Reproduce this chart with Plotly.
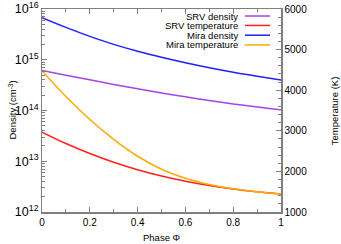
import plotly.graph_objects as go

phase = [0.0, 0.1, 0.2, 0.3, 0.4, 0.5, 0.6, 0.7, 0.8, 0.9, 1.0]

srv_density = [6.17e14, 4.97e14, 4.02e14, 3.26e14, 2.67e14, 2.22e14,
               1.86e14, 1.57e14, 1.35e14, 1.17e14, 1.03e14]
mira_density = [6.75e15, 4.34e15, 2.89e15, 2.01e15, 1.47e15, 1.12e15,
                8.74e14, 6.97e14, 5.69e14, 4.75e14, 4.0e14]
srv_temperature = [2968, 2686, 2441, 2225, 2042, 1887, 1760, 1654, 1569, 1500, 1444]
mira_temperature = [4480, 3843, 3279, 2789, 2373, 2054, 1833, 1679, 1571, 1498, 1441]

names = ["SRV density", "SRV temperature", "Mira density", "Mira temperature"]
colors = ["#a445e8", "#ff2020", "#2020ff", "#ffaa00"]

FONT = "Liberation Sans, Arial, Helvetica, sans-serif"
AX = "#808080"

fig = go.Figure()
fig.add_trace(go.Scatter(x=phase, y=srv_density, mode="lines", line=dict(color=colors[0], width=1.5, shape="spline"), showlegend=False))
fig.add_trace(go.Scatter(x=phase, y=srv_temperature, mode="lines", yaxis="y2", line=dict(color=colors[1], width=1.5, shape="spline"), showlegend=False))
fig.add_trace(go.Scatter(x=phase, y=mira_density, mode="lines", line=dict(color=colors[2], width=1.5, shape="spline"), showlegend=False))
fig.add_trace(go.Scatter(x=phase, y=mira_temperature, mode="lines", yaxis="y2", line=dict(color=colors[3], width=1.5, shape="spline"), showlegend=False))

# custom legend (text right-aligned, sample line on the right)
ly = [0.9655, 0.919, 0.871, 0.823]
for n, c, yy in zip(names, colors, ly):
    fig.add_annotation(x=0.823, y=yy, xref="paper", yref="paper", text=n, showarrow=False,
                       xanchor="right", yanchor="middle", borderpad=0,
                       font=dict(size=9.5, color="#000", family=FONT))
    fig.add_shape(type="line", xref="paper", yref="paper", x0=0.849, x1=0.954, y0=yy, y1=yy,
                  line=dict(color=c, width=1.5))

# axis titles
fig.add_annotation(x=-0.1255, y=0.5, xref="paper", yref="paper", text="Density (cm<sup>-3</sup>)",
                   textangle=-90, showarrow=False, xanchor="center", yanchor="middle",
                   font=dict(size=9.5, family=FONT, color="#000"))
fig.add_annotation(x=1.225, y=0.5, xref="paper", yref="paper", text="Temperature (K)",
                   textangle=-90, showarrow=False, xanchor="center", yanchor="middle",
                   font=dict(size=9.5, family=FONT, color="#000"))
fig.add_annotation(x=0.5, y=-0.127, xref="paper", yref="paper", text="Phase Φ",
                   showarrow=False, xanchor="center", yanchor="middle",
                   font=dict(size=9.5, family=FONT, color="#000"))

fig.update_layout(
    width=341, height=244,
    margin=dict(l=42, r=60, t=9, b=32),
    paper_bgcolor="white", plot_bgcolor="white",
    font=dict(family=FONT, size=10, color="#000"),
    xaxis=dict(range=[0, 1], dtick=0.2, tick0=0, ticks="inside", ticklen=5, tickcolor=AX,
               showline=True, linecolor=AX, linewidth=1.5, mirror="ticks", showgrid=False, zeroline=False,
               minor=dict(dtick=0.1, ticks="inside", ticklen=3, tickcolor=AX),
               automargin=False, tickfont=dict(size=10)),
    yaxis=dict(type="log", range=[12, 16], dtick=1, exponentformat="power", showexponent="all",
               ticks="inside", ticklen=5, tickcolor=AX,
               showline=True, linecolor=AX, linewidth=1.5, showgrid=False, zeroline=False,
               minor=dict(dtick="D1", ticks="inside", ticklen=3, tickcolor=AX),
               automargin=False, tickfont=dict(size=10)),
    yaxis2=dict(overlaying="y", side="right", range=[1000, 6000], dtick=1000,
                ticks="inside", ticklen=5, tickcolor=AX,
                showline=True, linecolor=AX, linewidth=1.5, showgrid=False, zeroline=False,
                minor=dict(dtick=200, ticks="inside", ticklen=3, tickcolor=AX),
                automargin=False, tickfont=dict(size=10)),
)

fig.write_html("out.html", config={"displayModeBar": False, "staticPlot": True},
               post_script="document.body.style.margin='0';document.body.style.overflow='hidden';")
